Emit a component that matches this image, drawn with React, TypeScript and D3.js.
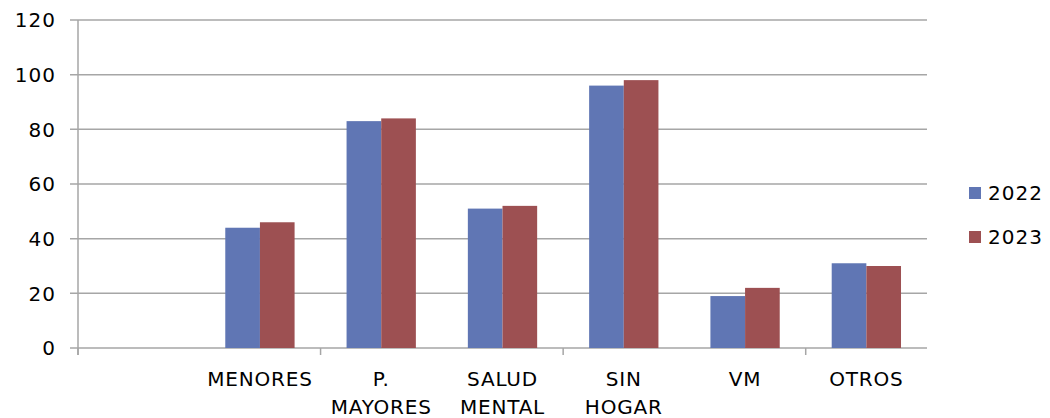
import React from "react";
import * as d3 from "d3";

const categories = ["", "MENORES", "P. MAYORES", "SALUD MENTAL", "SIN HOGAR", "VM", "OTROS"];
const labelLines = [[], ["MENORES"], ["P.", "MAYORES"], ["SALUD", "MENTAL"], ["SIN", "HOGAR"], ["VM"], ["OTROS"]];
const series2022 = [null, 44, 83, 51, 96, 19, 31];
const series2023 = [null, 46, 84, 52, 98, 22, 30];
const seriesNames = ["2022", "2023"];
const colors = ["#6076B4", "#9D5052"];
const yTicks = [0, 20, 40, 60, 80, 100, 120];

export default function App() {
  const W = 1050, H = 418;
  const left = 78, right = 927, top = 20, bottom = 348;
  const x = d3.scaleBand<string>().domain(categories.map((c, i) => String(i))).range([left, right]).paddingInner(0).paddingOuter(0);
  const bw = x.bandwidth();
  const barW = bw / 3.5;
  const y = d3.scaleLinear().domain([0, 120]).range([bottom, top]);
  const font = "'DejaVu Sans', sans-serif";
  const grid = "#A6A6A6";
  const allSeries = [series2022, series2023];
  const tickIdx = [0, 2, 4, 6];
  return (
    <svg width={W} height={H} style={{ position: "absolute", left: 0, top: 0, background: "#fff" }}>
      {yTicks.map((t) => (
        <g key={t}>
          <line x1={left - 8} x2={right} y1={y(t)} y2={y(t)} stroke={grid} strokeWidth={1.5} />
          <text x={56} y={y(t)} dy="0.36em" textAnchor="end" fontFamily={font} fontSize={20} letterSpacing={1} fill="#000">{t}</text>
        </g>
      ))}
      <line x1={left} x2={left} y1={top} y2={bottom + 7} stroke={grid} strokeWidth={1.5} />
      {tickIdx.map((i) => {
        const xx = i === 0 ? left : (x(String(i)) as number);
        return <line key={i} x1={xx} x2={xx} y1={bottom} y2={bottom + 7} stroke={grid} strokeWidth={1.5} />;
      })}
      {allSeries.map((s, si) =>
        s.map((v, i) =>
          v == null ? null : (
            <rect
              key={si + "-" + i}
              x={(x(String(i)) as number) + bw / 2 - barW + si * barW}
              y={y(v)}
              width={barW}
              height={y(0) - y(v)}
              fill={colors[si]}
            />
          )
        )
      )}
      {labelLines.map((lines, i) =>
        lines.map((ln, li) => (
          <text key={i + "-" + li} x={(x(String(i)) as number) + bw / 2} y={386 + li * 28} textAnchor="middle" fontFamily={font} fontSize={20} letterSpacing={0.8} fill="#000">{ln}</text>
        ))
      )}
      {seriesNames.map((n, i) => (
        <g key={n}>
          <rect x={969} y={187 + i * 44} width={12} height={12} fill={colors[i]} />
          <text x={988} y={193 + i * 44} dy="0.36em" fontFamily={font} fontSize={20} letterSpacing={1} fill="#000">{n}</text>
        </g>
      ))}
    </svg>
  );
}
